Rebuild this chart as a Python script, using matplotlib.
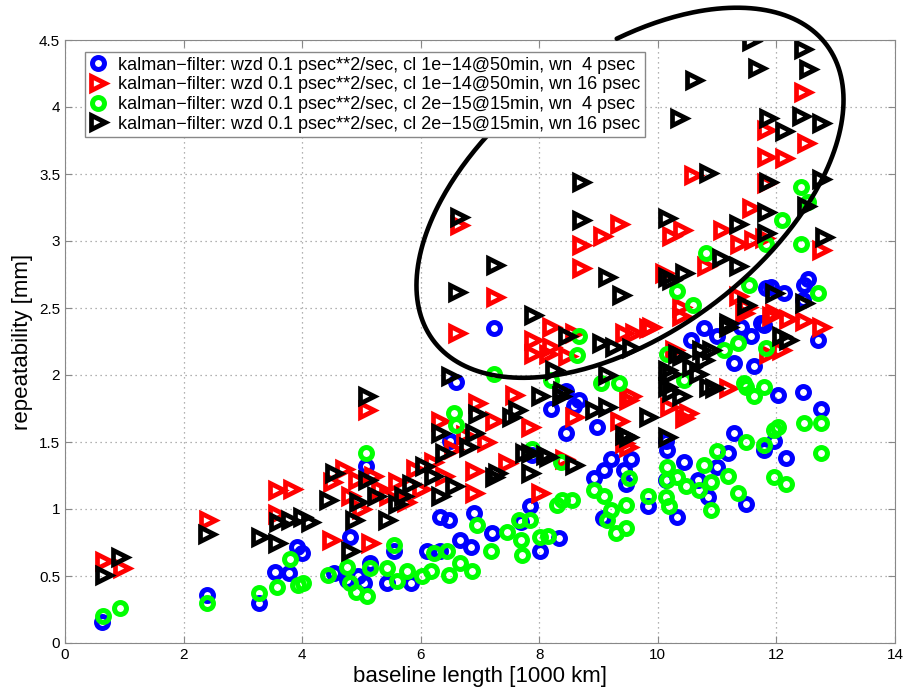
import numpy as np
import matplotlib
matplotlib.use("Agg")
import matplotlib.pyplot as plt

plt.rcParams["font.family"] = ["Liberation Sans", "DejaVu Sans"]

LABELS = [
    "kalman\u2212filter: wzd 0.1 psec**2/sec, cl 1e\u221214@50min, wn  4 psec",
    "kalman\u2212filter: wzd 0.1 psec**2/sec, cl 1e\u221214@50min, wn 16 psec",
    "kalman\u2212filter: wzd 0.1 psec**2/sec, cl 2e\u221215@15min, wn  4 psec",
    "kalman\u2212filter: wzd 0.1 psec**2/sec, cl 2e\u221215@15min, wn 16 psec",
]

# series 1: blue circles
blue_x = [0.62, 2.39, 3.28, 3.55, 3.77, 3.91, 4.00, 4.53, 4.76, 4.81, 4.95, 5.04, 5.07,
          5.15, 5.43, 5.55, 5.83, 6.11, 6.33, 6.47, 6.33, 6.59, 6.50, 6.67, 6.84, 6.90,
          7.21, 7.23, 7.69, 7.85, 7.88, 8.02, 8.19, 8.33, 8.45, 8.45, 8.58, 8.67, 8.92,
          8.98, 9.07, 9.09, 9.21, 9.43, 9.46, 9.54, 9.83, 10.14, 10.16, 10.14, 10.33,
          10.44, 10.56, 10.67, 10.78, 10.84, 11.00, 11.00, 11.18, 11.28, 11.29, 11.40,
          11.49, 11.57, 11.62, 11.74, 11.79, 11.79, 11.82, 11.91, 11.96, 12.02, 12.13,
          12.16, 12.44, 12.44, 12.47, 12.53, 12.70, 12.75]
blue_y = [0.16, 0.36, 0.30, 0.53, 0.52, 0.72, 0.67, 0.52, 0.47, 0.79, 0.50, 0.45, 1.32,
          0.60, 0.45, 0.69, 0.45, 0.69, 0.94, 0.92, 0.69, 1.95, 1.51, 0.77, 0.72, 0.97,
          0.82, 2.35, 0.90, 1.02, 1.40, 0.69, 1.75, 0.78, 1.57, 1.88, 1.77, 1.81, 1.23,
          1.61, 0.93, 1.29, 1.37, 1.29, 1.19, 1.37, 1.02, 1.51, 1.44, 1.22, 0.94,
          1.35, 2.26, 1.22, 2.35, 1.09, 1.31, 2.29, 1.42, 2.09, 1.57, 2.36,
          1.04, 2.29, 2.07, 2.39, 1.44, 2.37, 2.65, 2.66, 1.51, 1.85, 2.61,
          1.38, 1.87, 2.56, 2.67, 2.72, 2.26, 1.75]

# series 2: red triangles
red_x = [0.65, 0.96, 2.41, 3.58, 3.58, 3.83, 4.48, 4.50, 4.70, 4.80, 4.92, 5.00, 5.10,
         5.15, 5.20, 5.32, 5.45, 5.60, 5.75, 5.90, 6.00, 6.20, 6.33, 6.40, 6.55, 6.62,
         6.64, 6.75, 6.90, 6.90, 6.95, 7.10, 7.23, 7.26, 7.46, 7.57, 7.85, 7.90, 7.90,
         8.02, 8.14, 8.19, 8.19, 8.41, 8.47, 8.58, 8.58, 8.70, 8.70, 9.06, 9.34, 9.34,
         9.43, 9.43, 9.49, 9.49, 9.54, 9.60, 9.83, 9.88, 10.10, 10.19, 10.22, 10.27,
         10.39, 10.39, 10.41, 10.44, 10.50, 10.59, 10.81, 11.09, 11.18, 11.35, 11.37,
         11.45, 11.51, 11.57, 11.60, 11.79, 11.82, 11.82, 11.82, 11.85, 11.91, 11.96,
         12.08, 12.13, 12.19, 12.44, 12.47, 12.50, 12.75, 12.75]
red_y = [0.61, 0.56, 0.92, 0.96, 1.14, 1.15, 0.77, 1.20, 1.30, 1.10, 1.22, 1.00, 1.74,
         0.75, 1.25, 1.15, 1.10, 1.20, 1.05, 1.30, 1.15, 1.35, 1.66, 1.25, 1.45, 2.31,
         3.12, 1.55, 1.12, 1.28, 1.79, 1.50, 1.66, 2.58, 1.34, 1.85, 1.61, 2.26, 2.16,
         1.12, 2.16, 2.36, 2.21, 1.37, 2.14, 1.69, 2.31, 2.97, 2.80, 3.04, 3.13, 1.66,
         2.31, 1.49, 1.46, 1.81, 1.84, 2.31, 2.35, 2.36, 2.76, 1.76, 3.04, 2.19,
         2.51, 2.44, 3.08, 1.68, 1.72, 3.49, 2.81, 3.08, 1.90, 2.59, 2.98,
         2.46, 2.51, 3.25, 3.01, 3.02, 3.83, 3.63, 3.43, 2.16, 2.44, 2.46,
         2.19, 3.62, 2.42, 4.11, 2.40, 3.73, 2.36, 2.93]

# series 3: green circles
green_x = [0.64, 0.92, 2.39, 3.28, 3.58, 3.80, 3.93, 4.02, 4.44, 4.76, 4.81, 4.90, 5.07,
           5.10, 5.15, 5.43, 5.55, 5.60, 5.77, 6.02, 6.17, 6.22, 6.45, 6.47, 6.56, 6.59,
           6.67, 6.87, 6.95, 7.18, 7.23, 7.46, 7.65, 7.69, 7.71, 7.85, 7.88, 8.02, 8.14,
           8.19, 8.30, 8.36, 8.39, 8.56, 8.64, 8.67, 8.92, 9.04, 9.09, 9.15, 9.21, 9.30,
           9.34, 9.46, 9.46, 9.51, 9.83, 10.14, 10.16, 10.16, 10.16, 10.19, 10.33, 10.33,
           10.44, 10.47, 10.59, 10.69, 10.78, 10.81, 10.90, 10.90, 11.00, 11.11, 11.18,
           11.35, 11.35, 11.45, 11.49, 11.49, 11.54, 11.62, 11.79, 11.79, 11.82, 11.82,
           11.96, 11.96, 12.02, 12.10, 12.16, 12.42, 12.42, 12.47, 12.53, 12.70, 12.75,
           12.75]
green_y = [0.20, 0.26, 0.30, 0.37, 0.42, 0.63, 0.43, 0.45, 0.51, 0.57, 0.45, 0.38, 1.42,
           0.35, 0.56, 0.56, 0.73, 0.46, 0.54, 0.50, 0.54, 0.67, 0.69, 0.51, 1.72, 1.63,
           0.60, 0.54, 0.88, 0.69, 2.01, 0.83, 0.92, 0.77, 0.66, 0.92, 1.45, 0.79, 0.80,
           1.96, 1.03, 1.35, 1.07, 1.07, 2.15, 2.29, 1.14, 1.94, 1.10, 0.92, 0.99, 0.82,
           1.94, 0.86, 1.03, 1.23, 1.10, 1.09, 1.31, 1.22, 2.16, 1.02, 1.24, 2.63,
           1.96, 1.17, 2.52, 1.14, 1.33, 2.91, 1.20, 0.99, 1.43, 2.19, 1.25,
           1.12, 2.24, 1.94, 1.91, 1.50, 2.67, 1.84, 1.91, 1.48, 2.20, 2.98,
           1.24, 1.59, 1.61, 3.16, 1.19, 3.40, 2.98, 1.64, 3.29, 2.61, 1.64,
           1.42]

# series 4: black triangles
black_x = [0.65, 0.93, 2.39, 3.29, 3.58, 3.60, 3.80, 4.00, 4.14, 4.44, 4.53, 4.81, 4.87,
           4.95, 5.10, 5.10, 5.25, 5.43, 5.60, 5.70, 5.83, 6.05, 6.20, 6.33, 6.33, 6.39,
           6.50, 6.56, 6.62, 6.64, 6.80, 6.90, 6.95, 7.23, 7.26, 7.29, 7.52, 7.63, 7.74,
           7.85, 7.85, 7.90, 8.02, 8.10, 8.14, 8.24, 8.36, 8.39, 8.47, 8.58, 8.70, 8.70,
           8.92, 9.04, 9.15, 9.15, 9.15, 9.26, 9.38, 9.43, 9.49, 9.54, 9.83, 10.16, 10.16,
           10.16, 10.16, 10.16, 10.22, 10.22, 10.22, 10.33, 10.36, 10.39, 10.39, 10.44,
           10.56, 10.61, 10.67, 10.73, 10.78, 10.84, 10.84, 10.90, 10.95, 11.06, 11.18,
           11.18, 11.35, 11.35, 11.49, 11.57, 11.68, 11.82, 11.82, 11.85, 11.85, 11.96,
           12.08, 12.13, 12.19, 12.42, 12.44, 12.47, 12.50, 12.53, 12.75, 12.75, 12.80]
black_y = [0.51, 0.64, 0.81, 0.79, 0.75, 0.90, 0.92, 0.94, 0.90, 1.07, 1.27, 0.69, 0.92,
           1.05, 1.84, 1.22, 1.10, 0.92, 1.04, 1.10, 1.19, 1.32, 1.25, 1.10, 1.57, 1.42,
           1.99, 1.17, 2.62, 3.18, 1.46, 1.57, 1.71, 1.24, 2.82, 1.27, 1.69, 1.74, 1.42,
           1.27, 1.42, 2.45, 1.84, 1.40, 1.39, 2.04, 1.84, 1.88, 2.29, 1.33, 3.44, 3.16,
           1.74, 2.24, 1.76, 2.73, 2.00, 2.21, 2.60, 1.55, 1.54, 2.20, 1.69, 3.17, 2.73,
           1.54, 1.91, 2.04, 2.71, 2.01, 1.87, 2.16, 3.92, 1.84, 2.14, 2.76,
           2.06, 4.20, 2.01, 2.19, 2.11, 3.51, 1.91, 2.19, 1.90, 2.87, 2.36,
           2.39, 3.13, 2.81, 2.52, 4.49, 4.29, 3.22, 3.06, 3.92, 3.44, 2.61,
           2.29, 3.82, 2.26, 3.93, 4.43, 2.54, 3.26, 4.28, 3.88, 3.46, 3.03]

# hand-drawn ellipse around the upper cluster: centre in data units,
# half axes in screen pixels (so it keeps its shape), open gap under the legend
ELL_CENTER = (9.53, 3.36)
ELL_AXES_PX = (246, 139)
ELL_ANGLE = 37.0
ELL_SPAN = (-70.5, 274.0)
PX_PER_X, PX_PER_Y = 830 / 14, 603 / 4.5

fig = plt.figure(figsize=(9.05, 6.93), dpi=100)
ax = fig.add_axes([65 / 905, 1 - 643 / 693, 830 / 905, 603 / 693])

circ = dict(linestyle="none", markerfacecolor="none", markersize=8.6, markeredgewidth=3.6)
tri = dict(linestyle="none", markerfacecolor="none", markersize=10.5, markeredgewidth=3.4)
ax.plot(blue_x, blue_y, marker="o", color="#0000ff", label=LABELS[0], **circ)
ax.plot(red_x, red_y, marker=">", color="#ff0000", label=LABELS[1], **tri)
ax.plot(green_x, green_y, marker="o", color="#00ff00", label=LABELS[2], **circ)
ax.plot(black_x, black_y, marker=">", color="#000000", label=LABELS[3], **tri)

t = np.radians(np.linspace(ELL_SPAN[0], ELL_SPAN[1], 400))
th = np.radians(ELL_ANGLE)
dx = ELL_AXES_PX[0] * np.cos(t) * np.cos(th) + ELL_AXES_PX[1] * np.sin(t) * np.sin(th)
dy = -ELL_AXES_PX[0] * np.cos(t) * np.sin(th) + ELL_AXES_PX[1] * np.sin(t) * np.cos(th)
ax.plot(ELL_CENTER[0] + dx / PX_PER_X, ELL_CENTER[1] - dy / PX_PER_Y,
        color="black", linewidth=3.3, clip_on=False, zorder=4,
        solid_capstyle="round")

ax.set_xlim(0, 14)
ax.set_ylim(0, 4.5)
ax.set_xticks(np.arange(0, 15, 2))
ax.set_yticks(np.arange(0, 4.51, 0.5))
ax.set_yticklabels(["0", "0.5", "1", "1.5", "2", "2.5", "3", "3.5", "4", "4.5"])
ax.tick_params(direction="in", top=True, right=True, labelsize=11, length=5,
               color="#888888")
for s in ax.spines.values():
    s.set_color("#888888")
ax.grid(True, linestyle=(0, (1, 3)), color="#999999", linewidth=0.9)
ax.set_axisbelow(True)

ax.set_xlabel("baseline length [1000 km]", fontsize=16, labelpad=3)
ax.set_ylabel("repeatability [mm]", fontsize=16, labelpad=4)

leg = ax.legend(loc="upper left", bbox_to_anchor=(0.024, 0.98), fontsize=13,
                frameon=True, fancybox=False, framealpha=1, edgecolor="#888888",
                handlelength=1.0, handletextpad=0.6, borderpad=0.25, labelspacing=0.15,
                borderaxespad=0)
leg.set_zorder(10)
leg.get_frame().set_linewidth(1.0)

fig.savefig("out.png", dpi=100)
